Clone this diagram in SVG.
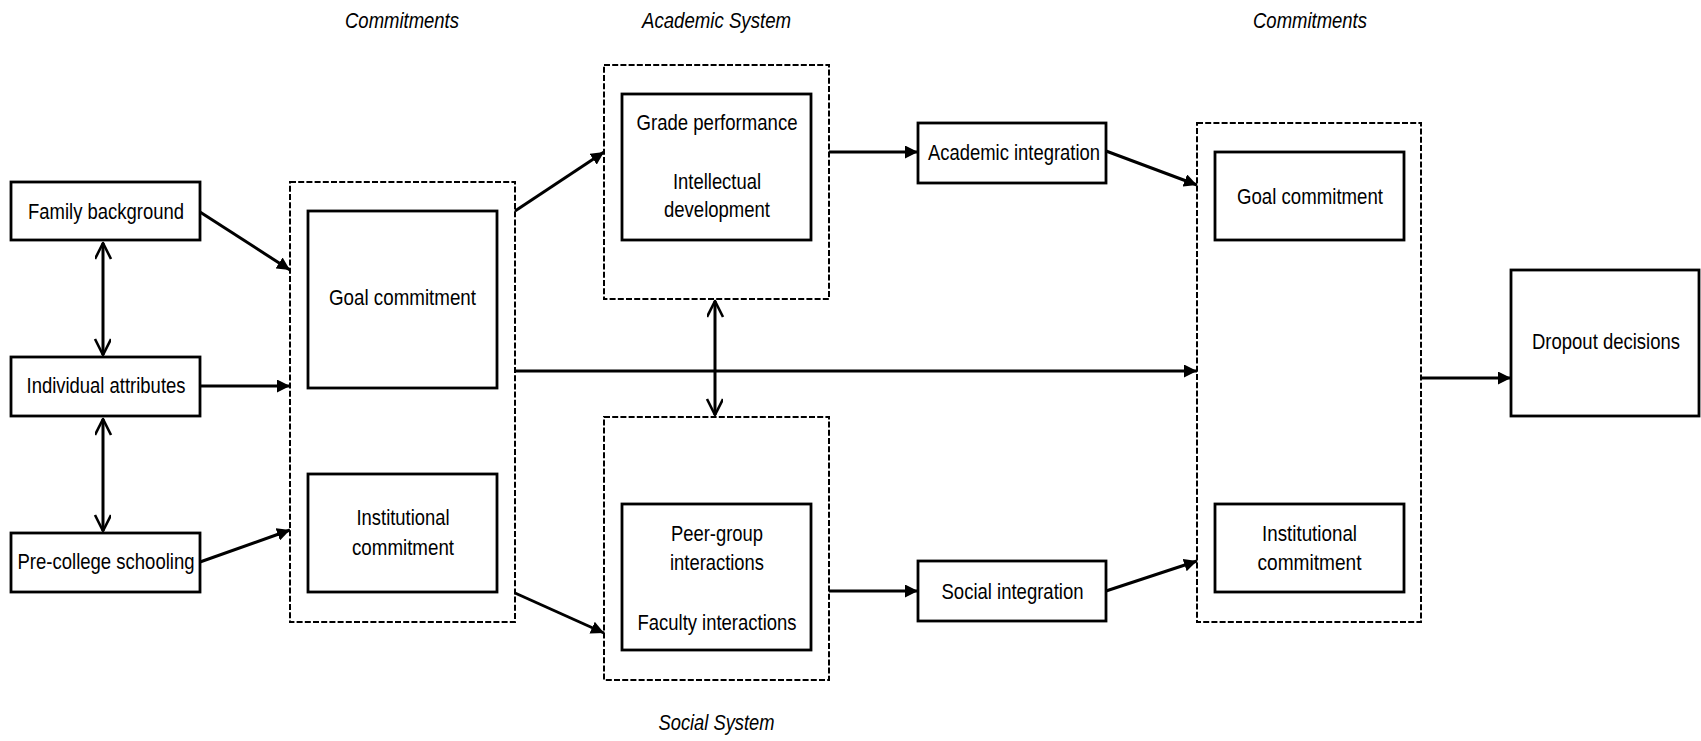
<svg xmlns="http://www.w3.org/2000/svg" width="1701" height="741" viewBox="0 0 1701 741">
<style>
.box{fill:#fff;stroke:#000;stroke-width:2.8}
.dash{fill:none;stroke:#000;stroke-width:2;stroke-dasharray:6 2.2}
.t{font-family:"Liberation Sans Narrow","Liberation Sans",Arial,sans-serif;font-size:22px;fill:#000;text-anchor:middle}
.ti{font-family:"Liberation Sans Narrow","Liberation Sans",Arial,sans-serif;font-size:22px;font-style:italic;fill:#000;text-anchor:middle}
.c{fill:none;stroke:#000;stroke-width:3}
</style>
<defs>
<marker id="ah" markerUnits="userSpaceOnUse" markerWidth="14" markerHeight="13" refX="13" refY="6.5" orient="auto"><path d="M0,0 L13,6.5 L0,13 z" fill="#000"/></marker>
<marker id="av" markerUnits="userSpaceOnUse" markerWidth="20" markerHeight="18" refX="17" refY="8" orient="auto-start-reverse"><path d="M1,0 L17,8 L1,16" fill="none" stroke="#000" stroke-width="2.6" stroke-linejoin="round"/></marker>
</defs>
<rect width="1701" height="741" fill="#fff"/>

<g id="titles">
<text class="ti" x="402" y="28" textLength="114" lengthAdjust="spacingAndGlyphs">Commitments</text>
<text class="ti" x="716.5" y="28" textLength="149" lengthAdjust="spacingAndGlyphs">Academic System</text>
<text class="ti" x="1310" y="28" textLength="114" lengthAdjust="spacingAndGlyphs">Commitments</text>
<text class="ti" x="716.5" y="730" textLength="116" lengthAdjust="spacingAndGlyphs">Social System</text>
</g>

<g id="family-background">
<rect class="box" x="11" y="182" width="189" height="58"/>
<text class="t" x="106" y="219" textLength="156" lengthAdjust="spacingAndGlyphs">Family background</text>
</g>
<g id="individual-attributes">
<rect class="box" x="11" y="357" width="189" height="59"/>
<text class="t" x="106" y="393" textLength="159" lengthAdjust="spacingAndGlyphs">Individual attributes</text>
</g>
<g id="pre-college-schooling">
<rect class="box" x="11" y="533" width="189" height="59"/>
<text class="t" x="106" y="569" textLength="177" lengthAdjust="spacingAndGlyphs">Pre-college schooling</text>
</g>

<g id="commitments-left">
<rect class="dash" x="290" y="182" width="225" height="440"/>
</g>
<g id="goal-commitment-left">
<rect class="box" x="308" y="211" width="189" height="177"/>
<text class="t" x="402.5" y="305" textLength="147" lengthAdjust="spacingAndGlyphs">Goal commitment</text>
</g>
<g id="institutional-commitment-left">
<rect class="box" x="308" y="474" width="189" height="118"/>
<text class="t" x="403" y="525" textLength="93" lengthAdjust="spacingAndGlyphs">Institutional</text>
<text class="t" x="403" y="555" textLength="102" lengthAdjust="spacingAndGlyphs">commitment</text>
</g>

<g id="academic-system">
<rect class="dash" x="604" y="65" width="225" height="234"/>
</g>
<g id="academic-inner">
<rect class="box" x="622" y="94" width="189" height="146"/>
<text class="t" x="717" y="130" textLength="161" lengthAdjust="spacingAndGlyphs">Grade performance</text>
<text class="t" x="717" y="189" textLength="88" lengthAdjust="spacingAndGlyphs">Intellectual</text>
<text class="t" x="717" y="217" textLength="106" lengthAdjust="spacingAndGlyphs">development</text>
</g>

<g id="social-system">
<rect class="dash" x="604" y="417" width="225" height="263"/>
</g>
<g id="social-inner">
<rect class="box" x="622" y="504" width="189" height="146"/>
<text class="t" x="717" y="540.5" textLength="92" lengthAdjust="spacingAndGlyphs">Peer-group</text>
<text class="t" x="717" y="569.5" textLength="94" lengthAdjust="spacingAndGlyphs">interactions</text>
<text class="t" x="717" y="629.5" textLength="159" lengthAdjust="spacingAndGlyphs">Faculty interactions</text>
</g>

<g id="academic-integration">
<rect class="box" x="918" y="123" width="188" height="60"/>
<text class="t" x="1014" y="160" textLength="172" lengthAdjust="spacingAndGlyphs">Academic integration</text>
</g>
<g id="social-integration">
<rect class="box" x="918" y="561" width="188" height="60"/>
<text class="t" x="1012.5" y="599" textLength="142" lengthAdjust="spacingAndGlyphs">Social integration</text>
</g>

<g id="commitments-right">
<rect class="dash" x="1197" y="123" width="224" height="499"/>
</g>
<g id="goal-commitment-right">
<rect class="box" x="1215" y="152" width="189" height="88"/>
<text class="t" x="1310" y="204" textLength="146" lengthAdjust="spacingAndGlyphs">Goal commitment</text>
</g>
<g id="institutional-commitment-right">
<rect class="box" x="1215" y="504" width="189" height="88"/>
<text class="t" x="1309.5" y="540.5" textLength="95" lengthAdjust="spacingAndGlyphs">Institutional</text>
<text class="t" x="1309.5" y="569.5" textLength="104" lengthAdjust="spacingAndGlyphs">commitment</text>
</g>

<g id="dropout-decisions">
<rect class="box" x="1511" y="270" width="188" height="146"/>
<text class="t" x="1606" y="349" textLength="148" lengthAdjust="spacingAndGlyphs">Dropout decisions</text>
</g>

<g id="connectors">
<path class="c" d="M200,212 L290,270" marker-end="url(#ah)"/>
<path class="c" d="M200,386 L290,386" marker-end="url(#ah)"/>
<path class="c" d="M200,562 L290,530" marker-end="url(#ah)"/>
<path class="c" d="M103,243 L103,355" marker-start="url(#av)" marker-end="url(#av)"/>
<path class="c" d="M103,419 L103,531" marker-start="url(#av)" marker-end="url(#av)"/>
<path class="c" d="M515,211 L604,152" marker-end="url(#ah)"/>
<path class="c" d="M515,593 L604,633" marker-end="url(#ah)"/>
<path class="c" d="M515,371 L1197,371" marker-end="url(#ah)"/>
<path class="c" d="M715,301 L715,415" marker-start="url(#av)" marker-end="url(#av)"/>
<path class="c" d="M829,152 L918,152" marker-end="url(#ah)"/>
<path class="c" d="M829,591 L918,591" marker-end="url(#ah)"/>
<path class="c" d="M1106,151 L1197,185" marker-end="url(#ah)"/>
<path class="c" d="M1106,591 L1197,561" marker-end="url(#ah)"/>
<path class="c" d="M1421,378 L1511,378" marker-end="url(#ah)"/>
</g>
</svg>
